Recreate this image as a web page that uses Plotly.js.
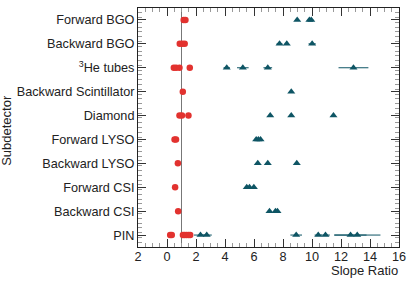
<!DOCTYPE html>
<html>
<head>
<meta charset="utf-8">
<script src="https://cdn.plot.ly/plotly-3.0.1.min.js"></script>
<style>html,body{margin:0;padding:0;background:#fff;}#chart{width:415px;height:281px;}</style>
</head>
<body>
<div id="chart"></div>
<script>
// categories bottom-to-top
const categories = ["PIN", "Backward CSI", "Forward CSI", "Backward LYSO", "Forward LYSO",
  "Diamond", "Backward Scintillator", "<sup>3</sup>He tubes", "Backward BGO", "Forward BGO"];

// red circle series (category, slope ratio)
const redCat = ["Forward BGO","Forward BGO",
  "Backward BGO","Backward BGO","Backward BGO",
  "<sup>3</sup>He tubes","<sup>3</sup>He tubes","<sup>3</sup>He tubes","<sup>3</sup>He tubes",
  "Backward Scintillator",
  "Diamond","Diamond","Diamond",
  "Forward LYSO","Forward LYSO",
  "Backward LYSO",
  "Forward CSI",
  "Backward CSI",
  "PIN","PIN","PIN","PIN","PIN","PIN","PIN"];
const redX = [1.15, 1.27,
  0.88, 1.05, 1.22,
  0.47, 0.63, 0.86, 1.57,
  1.09,
  0.86, 1.03, 1.48,
  0.52, 0.62,
  0.75,
  0.56,
  0.77,
  0.22, 0.33, 1.10, 1.22, 1.35, 1.48, 1.60];

// teal triangle series with horizontal errors
const tealCat = ["Forward BGO","Forward BGO","Forward BGO",
  "Backward BGO","Backward BGO","Backward BGO",
  "<sup>3</sup>He tubes","<sup>3</sup>He tubes","<sup>3</sup>He tubes","<sup>3</sup>He tubes",
  "Backward Scintillator",
  "Diamond","Diamond","Diamond",
  "Forward LYSO","Forward LYSO","Forward LYSO",
  "Backward LYSO","Backward LYSO","Backward LYSO",
  "Forward CSI","Forward CSI","Forward CSI",
  "Backward CSI","Backward CSI","Backward CSI",
  "PIN","PIN","PIN","PIN","PIN","PIN","PIN"];
const tealX = [8.98, 9.82, 9.95,
  7.76, 8.26, 10.01,
  4.12, 5.23, 6.95, 12.86,
  8.57,
  7.12, 8.57, 11.48,
  6.15, 6.30, 6.45,
  6.26, 6.95, 8.95,
  5.50, 5.69, 5.99,
  7.07, 7.48, 7.62,
  2.31, 2.74, 8.91, 10.43, 10.93, 12.66, 13.12];
const tealErr = [0.05, 0.08, 0.15,
  0.2, 0.08, 0.25,
  0.22, 0.4, 0.3, 1.03,
  0.08,
  0.0, 0.0, 0.0,
  0.05, 0.05, 0.05,
  0.0, 0.0, 0.0,
  0.05, 0.05, 0.05,
  0.0, 0.05, 0.05,
  0.45, 0.35, 0.4, 0.25, 0.3, 1.1, 1.6];

const xTickVals = [-2, 0, 2, 4, 6, 8, 10, 12, 14, 16];
const xTickText = ["2", "0", "2", "4", "6", "8", "10", "12", "14", "16"];

const idx = c => categories.indexOf(c);

const traces = [
  {
    type: "scatter", mode: "markers",
    x: tealX, y: tealCat.map(idx),
    error_x: {type: "data", array: tealErr, visible: true, color: "#0e5564", thickness: 1, width: 0},
    marker: {symbol: "triangle-up", size: 7, color: "#0e5564"},
    hoverinfo: "x"
  },
  {
    type: "scatter", mode: "markers",
    x: redX, y: redCat.map(idx),
    marker: {symbol: "circle", size: 6.5, color: "#e2322f"},
    hoverinfo: "x"
  }
];

const font = {family: "Liberation Sans, Arial, sans-serif", size: 12.7, color: "#222"};
const titleFont = {family: "Liberation Sans, Arial, sans-serif", size: 13, color: "#222"};

const layout = {
  width: 415, height: 281,
  margin: {l: 138, r: 16, t: 8, b: 34},
  paper_bgcolor: "#fff", plot_bgcolor: "#fff",
  showlegend: false,
  font: font,
  xaxis: {
    range: [-2, 16], tickvals: xTickVals, ticktext: xTickText,
    ticks: "inside", ticklen: 8, tickcolor: "#333", tickwidth: 1,
    minor: {dtick: 0.5, ticks: "inside", ticklen: 4, tickcolor: "#999", tickwidth: 1, showgrid: false},
    showline: true, linecolor: "#222", linewidth: 1, mirror: "allticks",
    showgrid: false, zeroline: false, tickfont: font, ticklabelstandoff: -2
  },
  yaxis: {
    range: [-0.5, 9.5], tickvals: categories.map((c, i) => i), ticktext: categories,
    ticks: "inside", ticklen: 8, tickcolor: "#333", tickwidth: 1,
    minor: {dtick: 0.2, tick0: -0.5, ticks: "inside", ticklen: 4, tickcolor: "#999", tickwidth: 1, showgrid: false},
    showline: true, linecolor: "#222", linewidth: 1, mirror: "allticks",
    showgrid: false, zeroline: false, tickfont: font
  },
  shapes: [
    {type: "line", xref: "x", yref: "paper", x0: 1, x1: 1, y0: 0, y1: 1,
     line: {color: "#777", width: 1}, layer: "below"}
  ],
  annotations: [
    {text: "Slope Ratio", xref: "paper", yref: "paper", x: 1.003, y: -0.1,
     xanchor: "right", yanchor: "middle", showarrow: false, font: titleFont},
    {text: "Subdetector", xref: "paper", yref: "paper", x: -0.502, y: 0.49,
     xanchor: "center", yanchor: "middle", textangle: -90, showarrow: false, font: titleFont}
  ]
};

Plotly.newPlot("chart", traces, layout, {displayModeBar: false, staticPlot: true});
</script>
</body>
</html>
